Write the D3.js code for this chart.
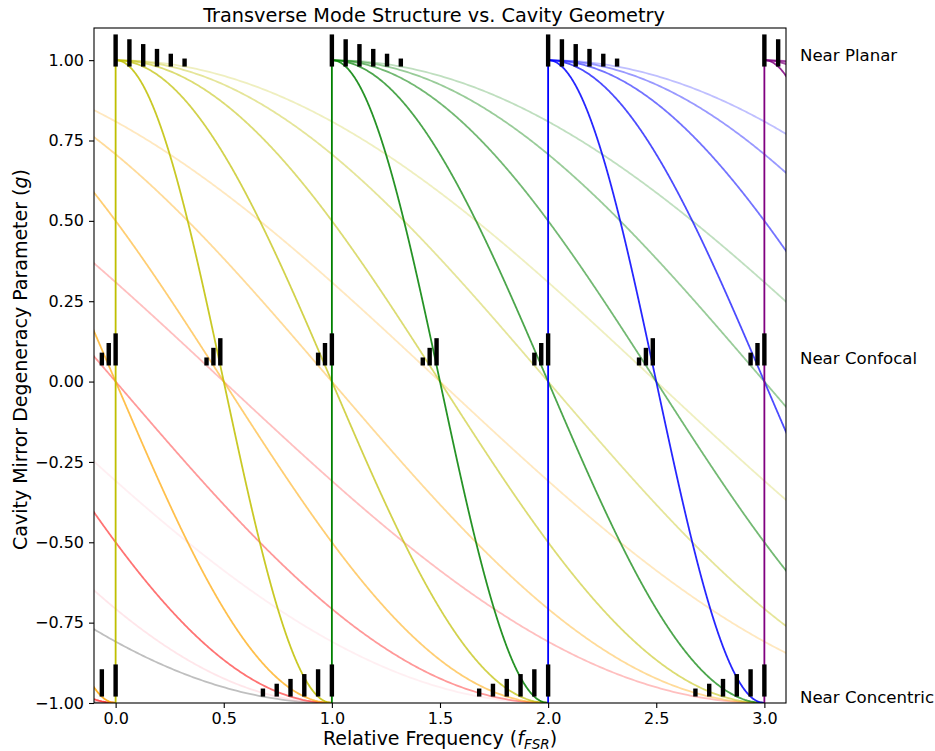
<!DOCTYPE html>
<html>
<head>
<meta charset="utf-8">
<script src="https://cdn.jsdelivr.net/npm/d3@7"></script>
<style>
  body { margin: 0; background: #fff; }
  text { font-family: "DejaVu Sans", sans-serif; fill: #000; }
</style>
</head>
<body>
<div class="chart"></div>
<script>
let width = 935,
    height = 751;

// longitudinal orders q and their colours
const qOrders = [-4, -3, -2, -1, 0, 1, 2, 3];
const qColors = ["#000000", "#ffc0cb", "#ff0000", "#ffa500", "#bfbf00", "#008000", "#0000ff", "#800080"];

// transverse orders N = m + n, with a weight used for opacity and bar height
const transverseOrders = [0, 1, 2, 3, 4, 5];
const modeWeights = [1.0, 0.85, 0.7, 0.55, 0.4, 0.25];

// cavity regimes where the spectra are drawn
const regimeNames = ["Near Planar", "Near Confocal", "Near Concentric"];
const regimeG = [0.98, 0.05, -0.98];
const regimeLabelG = [1.015, 0.072, -0.982];

const xTicks = [0, 0.5, 1, 1.5, 2, 2.5, 3];
const yTicks = [-1, -0.75, -0.5, -0.25, 0, 0.25, 0.5, 0.75, 1];

const margin = {top: 28, right: 149, bottom: 48, left: 94};
const iw = width - margin.left - margin.right,
      ih = height - margin.top - margin.bottom;

const x = d3.scaleLinear().domain([-0.1, 3.1]).range([0, iw]);
const y = d3.scaleLinear().domain([-1, 1.1]).range([ih, 0]);

// mode frequency in FSR units
function modeFreq(q, n, g) {
    return q + n * Math.acos(g) / Math.PI;
}

const svg = d3.select(".chart").append("svg")
    .attr("width", width)
    .attr("height", height);

svg.append("defs").append("clipPath").attr("id", "plotclip")
    .append("rect").attr("width", iw).attr("height", ih);

const g = svg.append("g").attr("transform", `translate(${margin.left},${margin.top})`);
const plot = g.append("g").attr("clip-path", "url(#plotclip)");

const gSamples = d3.range(0, 801).map(i => -1 + 2 * i / 800);
const line = d3.line().x(d => x(d[0])).y(d => y(d[1]));

qOrders.forEach((q, qi) => {
    transverseOrders.forEach((n, ni) => {
        const pts = gSamples.map(gv => [modeFreq(q, n, gv), gv]);
        plot.append("path")
            .attr("d", line(pts))
            .attr("fill", "none")
            .attr("stroke", qColors[qi])
            .attr("stroke-opacity", modeWeights[ni])
            .attr("stroke-width", 1.8);
    });
});

// spectra bars at each regime
regimeG.forEach(g0 => {
    qOrders.forEach(q => {
        transverseOrders.forEach((n, ni) => {
            const f = modeFreq(q, n, g0);
            if (f < -0.12 || f > 3.12) return;
            const h = 0.1 * modeWeights[ni];
            plot.append("rect")
                .attr("x", x(f) - 2.2)
                .attr("width", 4.4)
                .attr("y", y(g0 + h))
                .attr("height", y(g0) - y(g0 + h))
                .attr("fill", "#000");
        });
    });
});

// axes
const fmtX = d3.format(".1f"), fmtY = d3.format(".2f");
const xAxis = g.append("g").attr("transform", `translate(0,${ih})`)
    .call(d3.axisBottom(x).tickValues(xTicks).tickSize(5).tickPadding(5)
        .tickFormat(d => fmtX(d).replace("-", "\u2212")));
const yAxis = g.append("g")
    .call(d3.axisLeft(y).tickValues(yTicks).tickSize(5).tickPadding(5)
        .tickFormat(d => fmtY(d).replace("-", "\u2212")));
[xAxis, yAxis].forEach(a => {
    a.select(".domain").remove();
    a.selectAll("text").style("font-size", "16px").style("font-family", "DejaVu Sans");
    a.selectAll("line").attr("stroke", "#000").attr("stroke-width", 1.1);
});

g.append("rect")
    .attr("width", iw).attr("height", ih)
    .attr("fill", "none").attr("stroke", "#000").attr("stroke-width", 1.1);

// regime labels
regimeNames.forEach((name, i) => {
    g.append("text")
        .attr("x", iw + 14)
        .attr("y", y(regimeLabelG[i]))
        .attr("dy", "0.35em")
        .style("font-size", "16.6px")
        .text(name);
});

svg.append("text")
    .attr("x", margin.left + iw / 2 - 6)
    .attr("y", 22)
    .attr("text-anchor", "middle")
    .style("font-size", "19.3px")
    .text("Transverse Mode Structure vs. Cavity Geometry");

const xl = svg.append("text")
    .attr("x", margin.left + iw / 2)
    .attr("y", 745)
    .attr("text-anchor", "middle")
    .style("font-size", "19px");
xl.append("tspan").text("Relative Frequency (");
xl.append("tspan").style("font-style", "italic").text("f");
xl.append("tspan").style("font-style", "italic").style("font-size", "13.5px").attr("dy", 4).text("FSR");
xl.append("tspan").attr("dy", -4).text(")");

const yl = svg.append("text")
    .attr("transform", `translate(27,${margin.top + ih / 2 - 6}) rotate(-90)`)
    .attr("text-anchor", "middle")
    .style("font-size", "19px");
yl.append("tspan").text("Cavity Mirror Degeneracy Parameter (");
yl.append("tspan").style("font-style", "italic").text("g");
yl.append("tspan").text(")");
</script>
</body>
</html>
